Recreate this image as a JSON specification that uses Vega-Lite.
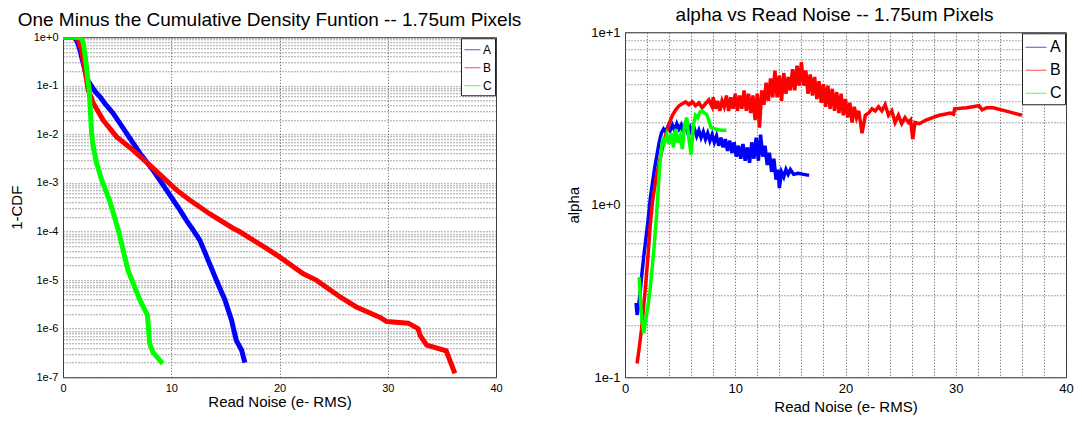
{
  "$schema": "https://vega.github.io/schema/vega-lite/v6.json",
  "background": "white",
  "padding": {"left": 8, "top": 5, "right": 4, "bottom": 2},
  "spacing": 44,
  "center": true,
  "config": {
    "font": "Liberation Sans",
    "view": {"stroke": "#333", "strokeWidth": 1},
    "axis": {
      "titleFontWeight": "normal", "labelColor": "#000", "titleColor": "#000",
      "domain": false, "ticks": false,
      "gridColor": "#555", "gridDash": [1, 2], "gridOpacity": 1, "gridWidth": 1,
      "labelFont": "Liberation Sans", "titleFont": "Liberation Sans"
    },
    "title": {"fontWeight": "normal", "fontSize": 19, "color": "#000", "font": "Liberation Sans"}
  },
  "resolve": {"scale": {"color": "independent"}, "legend": {"color": "independent"}},
  "datasets": {
    "cdf": [
      {"s": "A", "x": 0, "y": 1}, {"s": "A", "x": 1.0, "y": 1}, {"s": "A", "x": 1.2, "y": 0.9}, {"s": "A", "x": 1.4, "y": 0.72},
      {"s": "A", "x": 1.57, "y": 0.54}, {"s": "A", "x": 1.8, "y": 0.33}, {"s": "A", "x": 2.03, "y": 0.21}, {"s": "A", "x": 2.3, "y": 0.13},
      {"s": "A", "x": 2.5, "y": 0.11}, {"s": "A", "x": 3.0, "y": 0.075}, {"s": "A", "x": 3.42, "y": 0.059}, {"s": "A", "x": 4.0, "y": 0.04},
      {"s": "A", "x": 4.64, "y": 0.027}, {"s": "A", "x": 5.88, "y": 0.0105}, {"s": "A", "x": 7.1, "y": 0.0041}, {"s": "A", "x": 8.34, "y": 0.0018},
      {"s": "A", "x": 9.57, "y": 0.00071}, {"s": "A", "x": 10.2, "y": 0.00044}, {"s": "A", "x": 10.8, "y": 0.00028}, {"s": "A", "x": 11.4, "y": 0.00017},
      {"s": "A", "x": 12.03, "y": 0.000107}, {"s": "A", "x": 12.65, "y": 0.000066}, {"s": "A", "x": 13.4, "y": 0.000026}, {"s": "A", "x": 14.3, "y": 0.0000085},
      {"s": "A", "x": 14.96, "y": 0.0000039}, {"s": "A", "x": 15.57, "y": 0.0000015}, {"s": "A", "x": 16.0, "y": 0.00000058}, {"s": "A", "x": 16.5, "y": 0.00000036},
      {"s": "A", "x": 16.8, "y": 0.0000002},
      {"s": "B", "x": 0, "y": 1}, {"s": "B", "x": 1.2, "y": 1}, {"s": "B", "x": 1.45, "y": 0.85}, {"s": "B", "x": 1.72, "y": 0.54},
      {"s": "B", "x": 2.03, "y": 0.21}, {"s": "B", "x": 2.34, "y": 0.081}, {"s": "B", "x": 2.8, "y": 0.044}, {"s": "B", "x": 3.72, "y": 0.0195},
      {"s": "B", "x": 4.96, "y": 0.0089}, {"s": "B", "x": 6.5, "y": 0.0047}, {"s": "B", "x": 8.34, "y": 0.002}, {"s": "B", "x": 10.5, "y": 0.00071},
      {"s": "B", "x": 11.73, "y": 0.00044}, {"s": "B", "x": 13.57, "y": 0.00023}, {"s": "B", "x": 15.7, "y": 0.000117}, {"s": "B", "x": 16.3, "y": 0.0001},
      {"s": "B", "x": 18.8, "y": 0.000045}, {"s": "B", "x": 20.0, "y": 0.00003}, {"s": "B", "x": 22.2, "y": 0.0000135}, {"s": "B", "x": 23.4, "y": 0.00001},
      {"s": "B", "x": 25.6, "y": 0.0000045}, {"s": "B", "x": 27.1, "y": 0.0000028}, {"s": "B", "x": 29.3, "y": 0.0000017}, {"s": "B", "x": 29.9, "y": 0.0000014},
      {"s": "B", "x": 31.9, "y": 0.0000013}, {"s": "B", "x": 32.8, "y": 0.000001}, {"s": "B", "x": 33.0, "y": 0.00000072}, {"s": "B", "x": 33.6, "y": 0.00000046},
      {"s": "B", "x": 35.4, "y": 0.00000035}, {"s": "B", "x": 36.2, "y": 0.00000012},
      {"s": "C", "x": 0, "y": 1}, {"s": "C", "x": 1.4, "y": 1}, {"s": "C", "x": 1.65, "y": 0.97}, {"s": "C", "x": 1.85, "y": 0.8},
      {"s": "C", "x": 2.0, "y": 0.5}, {"s": "C", "x": 2.15, "y": 0.27}, {"s": "C", "x": 2.3, "y": 0.13}, {"s": "C", "x": 2.42, "y": 0.08},
      {"s": "C", "x": 2.55, "y": 0.025}, {"s": "C", "x": 2.65, "y": 0.01}, {"s": "C", "x": 2.8, "y": 0.0055}, {"s": "C", "x": 3.1, "y": 0.0026},
      {"s": "C", "x": 3.6, "y": 0.0011}, {"s": "C", "x": 4.3, "y": 0.00044}, {"s": "C", "x": 5.1, "y": 0.00011}, {"s": "C", "x": 6.0, "y": 0.000016},
      {"s": "C", "x": 7.1, "y": 0.0000039}, {"s": "C", "x": 7.8, "y": 0.0000019}, {"s": "C", "x": 8.0, "y": 0.0000005}, {"s": "C", "x": 8.3, "y": 0.00000033},
      {"s": "C", "x": 9.2, "y": 0.00000019}
    ],
    "alpha": [
      {"s": "A", "x": 1.0, "y": 0.27}, {"s": "A", "x": 1.1, "y": 0.23}, {"s": "A", "x": 1.2, "y": 0.25}, {"s": "A", "x": 1.35, "y": 0.3},
      {"s": "A", "x": 1.5, "y": 0.38}, {"s": "A", "x": 1.7, "y": 0.5}, {"s": "A", "x": 1.9, "y": 0.64}, {"s": "A", "x": 2.1, "y": 0.82},
      {"s": "A", "x": 2.3, "y": 1.1}, {"s": "A", "x": 2.5, "y": 1.35}, {"s": "A", "x": 2.7, "y": 1.65}, {"s": "A", "x": 2.9, "y": 1.95},
      {"s": "A", "x": 3.1, "y": 2.3}, {"s": "A", "x": 3.3, "y": 2.6}, {"s": "A", "x": 3.5, "y": 2.75}, {"s": "A", "x": 3.7, "y": 2.65},
      {"s": "A", "x": 3.9, "y": 2.85}, {"s": "A", "x": 4.1, "y": 2.7}, {"s": "A", "x": 4.3, "y": 2.9}, {"s": "A", "x": 4.5, "y": 2.7},
      {"s": "A", "x": 4.7, "y": 2.95}, {"s": "A", "x": 4.9, "y": 2.75}, {"s": "A", "x": 5.1, "y": 2.9}, {"s": "A", "x": 5.3, "y": 2.65},
      {"s": "A", "x": 5.5, "y": 2.85}, {"s": "A", "x": 5.7, "y": 2.6}, {"s": "A", "x": 5.9, "y": 2.8}, {"s": "A", "x": 6.1, "y": 2.55},
      {"s": "A", "x": 6.3, "y": 2.75}, {"s": "A", "x": 6.5, "y": 2.5}, {"s": "A", "x": 6.7, "y": 2.7}, {"s": "A", "x": 6.9, "y": 2.45},
      {"s": "A", "x": 7.1, "y": 2.65}, {"s": "A", "x": 7.3, "y": 2.4}, {"s": "A", "x": 7.5, "y": 2.6}, {"s": "A", "x": 7.7, "y": 2.35},
      {"s": "A", "x": 7.9, "y": 2.55}, {"s": "A", "x": 8.1, "y": 2.3}, {"s": "A", "x": 8.3, "y": 2.5}, {"s": "A", "x": 8.5, "y": 2.2},
      {"s": "A", "x": 8.7, "y": 2.45}, {"s": "A", "x": 8.9, "y": 2.15}, {"s": "A", "x": 9.1, "y": 2.4}, {"s": "A", "x": 9.3, "y": 2.05},
      {"s": "A", "x": 9.5, "y": 2.35}, {"s": "A", "x": 9.7, "y": 2.0}, {"s": "A", "x": 9.9, "y": 2.3}, {"s": "A", "x": 10.1, "y": 1.9},
      {"s": "A", "x": 10.3, "y": 2.2}, {"s": "A", "x": 10.5, "y": 1.85}, {"s": "A", "x": 10.7, "y": 2.25}, {"s": "A", "x": 10.9, "y": 1.8},
      {"s": "A", "x": 11.1, "y": 2.15}, {"s": "A", "x": 11.3, "y": 1.75}, {"s": "A", "x": 11.5, "y": 2.3}, {"s": "A", "x": 11.7, "y": 1.85},
      {"s": "A", "x": 11.9, "y": 2.45}, {"s": "A", "x": 12.1, "y": 1.8}, {"s": "A", "x": 12.3, "y": 2.55}, {"s": "A", "x": 12.5, "y": 1.9},
      {"s": "A", "x": 12.7, "y": 2.2}, {"s": "A", "x": 12.9, "y": 1.7}, {"s": "A", "x": 13.1, "y": 2.0}, {"s": "A", "x": 13.3, "y": 1.55},
      {"s": "A", "x": 13.5, "y": 1.85}, {"s": "A", "x": 13.7, "y": 1.4}, {"s": "A", "x": 13.9, "y": 1.6}, {"s": "A", "x": 14.0, "y": 1.25},
      {"s": "A", "x": 14.2, "y": 1.55}, {"s": "A", "x": 14.4, "y": 1.45}, {"s": "A", "x": 14.6, "y": 1.6}, {"s": "A", "x": 14.8, "y": 1.5},
      {"s": "A", "x": 15.0, "y": 1.6}, {"s": "A", "x": 15.3, "y": 1.5}, {"s": "A", "x": 15.7, "y": 1.52}, {"s": "A", "x": 16.2, "y": 1.5},
      {"s": "A", "x": 16.7, "y": 1.48},
      {"s": "B", "x": 1.1, "y": 0.12}, {"s": "B", "x": 1.3, "y": 0.15}, {"s": "B", "x": 1.5, "y": 0.19}, {"s": "B", "x": 1.7, "y": 0.26},
      {"s": "B", "x": 1.9, "y": 0.36}, {"s": "B", "x": 2.1, "y": 0.52}, {"s": "B", "x": 2.3, "y": 0.78}, {"s": "B", "x": 2.5, "y": 1.05},
      {"s": "B", "x": 2.8, "y": 1.4}, {"s": "B", "x": 3.1, "y": 1.75}, {"s": "B", "x": 3.4, "y": 2.15}, {"s": "B", "x": 3.7, "y": 2.55},
      {"s": "B", "x": 4.0, "y": 2.95}, {"s": "B", "x": 4.3, "y": 3.3}, {"s": "B", "x": 4.6, "y": 3.55}, {"s": "B", "x": 4.9, "y": 3.75},
      {"s": "B", "x": 5.2, "y": 3.85}, {"s": "B", "x": 5.5, "y": 3.95}, {"s": "B", "x": 5.8, "y": 3.8}, {"s": "B", "x": 6.1, "y": 3.95},
      {"s": "B", "x": 6.4, "y": 3.75}, {"s": "B", "x": 6.7, "y": 3.9}, {"s": "B", "x": 7.0, "y": 3.65}, {"s": "B", "x": 7.3, "y": 3.85},
      {"s": "B", "x": 7.6, "y": 4.05}, {"s": "B", "x": 7.9, "y": 3.7}, {"s": "B", "x": 8.0, "y": 4.2}, {"s": "B", "x": 8.2, "y": 3.6},
      {"s": "B", "x": 8.4, "y": 4.0}, {"s": "B", "x": 8.6, "y": 3.5}, {"s": "B", "x": 8.8, "y": 4.0}, {"s": "B", "x": 9.0, "y": 3.7},
      {"s": "B", "x": 9.2, "y": 4.3}, {"s": "B", "x": 9.4, "y": 3.5}, {"s": "B", "x": 9.6, "y": 4.2}, {"s": "B", "x": 9.8, "y": 3.6},
      {"s": "B", "x": 10.0, "y": 4.4}, {"s": "B", "x": 10.2, "y": 3.5}, {"s": "B", "x": 10.4, "y": 4.3}, {"s": "B", "x": 10.6, "y": 3.6},
      {"s": "B", "x": 10.8, "y": 4.6}, {"s": "B", "x": 11.0, "y": 3.5}, {"s": "B", "x": 11.2, "y": 4.4}, {"s": "B", "x": 11.4, "y": 3.4},
      {"s": "B", "x": 11.6, "y": 4.3}, {"s": "B", "x": 11.8, "y": 3.1}, {"s": "B", "x": 12.0, "y": 4.4}, {"s": "B", "x": 12.2, "y": 2.8},
      {"s": "B", "x": 12.4, "y": 4.6}, {"s": "B", "x": 12.6, "y": 3.8}, {"s": "B", "x": 12.8, "y": 5.1}, {"s": "B", "x": 13.0, "y": 4.0},
      {"s": "B", "x": 13.2, "y": 5.4}, {"s": "B", "x": 13.4, "y": 4.2}, {"s": "B", "x": 13.6, "y": 6.0}, {"s": "B", "x": 13.8, "y": 4.2},
      {"s": "B", "x": 14.0, "y": 5.6}, {"s": "B", "x": 14.2, "y": 4.0}, {"s": "B", "x": 14.4, "y": 5.8}, {"s": "B", "x": 14.6, "y": 4.4},
      {"s": "B", "x": 14.8, "y": 5.5}, {"s": "B", "x": 15.0, "y": 4.6}, {"s": "B", "x": 15.2, "y": 6.1}, {"s": "B", "x": 15.4, "y": 4.6},
      {"s": "B", "x": 15.6, "y": 6.4}, {"s": "B", "x": 15.8, "y": 4.9}, {"s": "B", "x": 16.0, "y": 6.7}, {"s": "B", "x": 16.2, "y": 4.9},
      {"s": "B", "x": 16.4, "y": 6.0}, {"s": "B", "x": 16.6, "y": 4.4}, {"s": "B", "x": 16.8, "y": 5.7}, {"s": "B", "x": 17.0, "y": 4.3},
      {"s": "B", "x": 17.2, "y": 5.5}, {"s": "B", "x": 17.4, "y": 4.1}, {"s": "B", "x": 17.6, "y": 5.2}, {"s": "B", "x": 17.8, "y": 3.9},
      {"s": "B", "x": 18.0, "y": 5.0}, {"s": "B", "x": 18.2, "y": 3.7}, {"s": "B", "x": 18.4, "y": 4.9}, {"s": "B", "x": 18.6, "y": 3.6},
      {"s": "B", "x": 18.8, "y": 4.7}, {"s": "B", "x": 19.0, "y": 3.5}, {"s": "B", "x": 19.2, "y": 4.5}, {"s": "B", "x": 19.4, "y": 3.4},
      {"s": "B", "x": 19.6, "y": 4.4}, {"s": "B", "x": 19.8, "y": 3.3}, {"s": "B", "x": 20.0, "y": 4.1}, {"s": "B", "x": 20.2, "y": 3.2},
      {"s": "B", "x": 20.4, "y": 3.9}, {"s": "B", "x": 20.6, "y": 3.0}, {"s": "B", "x": 20.8, "y": 3.7}, {"s": "B", "x": 21.0, "y": 3.2},
      {"s": "B", "x": 21.2, "y": 3.5}, {"s": "B", "x": 21.5, "y": 2.6}, {"s": "B", "x": 21.8, "y": 3.3}, {"s": "B", "x": 22.1, "y": 3.4},
      {"s": "B", "x": 22.4, "y": 3.6}, {"s": "B", "x": 22.7, "y": 3.5}, {"s": "B", "x": 23.0, "y": 3.7}, {"s": "B", "x": 23.3, "y": 3.5},
      {"s": "B", "x": 23.6, "y": 3.8}, {"s": "B", "x": 23.9, "y": 3.3}, {"s": "B", "x": 24.2, "y": 3.5}, {"s": "B", "x": 24.5, "y": 3.0},
      {"s": "B", "x": 24.8, "y": 3.3}, {"s": "B", "x": 25.1, "y": 2.95}, {"s": "B", "x": 25.4, "y": 3.2}, {"s": "B", "x": 25.7, "y": 3.0},
      {"s": "B", "x": 25.9, "y": 3.1}, {"s": "B", "x": 26.1, "y": 2.4}, {"s": "B", "x": 26.3, "y": 3.0}, {"s": "B", "x": 26.7, "y": 2.95},
      {"s": "B", "x": 27.3, "y": 3.1}, {"s": "B", "x": 27.9, "y": 3.2}, {"s": "B", "x": 28.5, "y": 3.3}, {"s": "B", "x": 29.0, "y": 3.35},
      {"s": "B", "x": 29.5, "y": 3.4}, {"s": "B", "x": 29.8, "y": 3.35}, {"s": "B", "x": 29.9, "y": 3.6}, {"s": "B", "x": 31.0, "y": 3.65},
      {"s": "B", "x": 32.1, "y": 3.75}, {"s": "B", "x": 32.4, "y": 3.55}, {"s": "B", "x": 32.8, "y": 3.65}, {"s": "B", "x": 33.4, "y": 3.65},
      {"s": "B", "x": 34.5, "y": 3.5}, {"s": "B", "x": 36.0, "y": 3.3},
      {"s": "C", "x": 1.25, "y": 0.38}, {"s": "C", "x": 1.3, "y": 0.37}, {"s": "C", "x": 1.4, "y": 0.28}, {"s": "C", "x": 1.55, "y": 0.21},
      {"s": "C", "x": 1.7, "y": 0.18}, {"s": "C", "x": 1.85, "y": 0.21}, {"s": "C", "x": 2.05, "y": 0.25}, {"s": "C", "x": 2.25, "y": 0.31},
      {"s": "C", "x": 2.45, "y": 0.42}, {"s": "C", "x": 2.65, "y": 0.58}, {"s": "C", "x": 2.85, "y": 0.85}, {"s": "C", "x": 3.0, "y": 1.2},
      {"s": "C", "x": 3.15, "y": 1.7}, {"s": "C", "x": 3.3, "y": 2.1}, {"s": "C", "x": 3.45, "y": 2.45}, {"s": "C", "x": 3.6, "y": 2.3},
      {"s": "C", "x": 3.8, "y": 2.55}, {"s": "C", "x": 4.0, "y": 2.25}, {"s": "C", "x": 4.2, "y": 2.6}, {"s": "C", "x": 4.4, "y": 2.15},
      {"s": "C", "x": 4.6, "y": 2.75}, {"s": "C", "x": 4.8, "y": 2.3}, {"s": "C", "x": 5.0, "y": 2.5}, {"s": "C", "x": 5.2, "y": 2.1},
      {"s": "C", "x": 5.4, "y": 2.9}, {"s": "C", "x": 5.6, "y": 3.2}, {"s": "C", "x": 5.8, "y": 2.4}, {"s": "C", "x": 6.0, "y": 1.95},
      {"s": "C", "x": 6.2, "y": 2.9}, {"s": "C", "x": 6.4, "y": 3.3}, {"s": "C", "x": 6.6, "y": 3.2}, {"s": "C", "x": 6.8, "y": 3.45},
      {"s": "C", "x": 7.0, "y": 3.5}, {"s": "C", "x": 7.2, "y": 3.4}, {"s": "C", "x": 7.4, "y": 3.35}, {"s": "C", "x": 7.6, "y": 3.1},
      {"s": "C", "x": 7.8, "y": 2.8}, {"s": "C", "x": 8.2, "y": 2.75}, {"s": "C", "x": 8.7, "y": 2.7}, {"s": "C", "x": 9.2, "y": 2.7}
    ]
  },
  "hconcat": [
    {
      "width": 433,
      "height": 340,
      "title": {"text": "One Minus the Cumulative Density Funtion -- 1.75um Pixels", "offset": 1, "dx": -10},
      "data": {"name": "cdf"},
      "mark": {"type": "line", "strokeWidth": 5, "clip": true},
      "encoding": {
        "x": {
          "field": "x", "type": "quantitative",
          "scale": {"domain": [0, 40], "nice": false, "zero": false},
          "axis": {"title": "Read Noise (e- RMS)", "values": [0, 10, 20, 30, 40], "labelFontSize": 11, "titleFontSize": 15, "labelPadding": 5, "titlePadding": 1, "labelFlush": false}
        },
        "y": {
          "field": "y", "type": "quantitative",
          "scale": {"type": "log", "domain": [1e-7, 1], "nice": false},
          "axis": {
            "title": "1-CDF",
            "values": [1e-7, 2e-7, 3e-7, 4e-7, 5e-7, 6e-7, 7e-7, 8e-7, 9e-7, 1e-6, 2e-6, 3e-6, 4e-6, 5e-6, 6e-6, 7e-6, 8e-6, 9e-6, 1e-5, 2e-5, 3e-5, 4e-5, 5e-5, 6e-5, 7e-5, 8e-5, 9e-5, 0.0001, 0.0002, 0.0003, 0.0004, 0.0005, 0.0006, 0.0007, 0.0008, 0.0009, 0.001, 0.002, 0.003, 0.004, 0.005, 0.006, 0.007, 0.008, 0.009, 0.01, 0.02, 0.03, 0.04, 0.05, 0.06, 0.07, 0.08, 0.09, 0.1, 0.2, 0.3, 0.4, 0.5, 0.6, 0.7, 0.8, 0.9, 1],
            "labelExpr": "abs(log(datum.value)/LN10 - round(log(datum.value)/LN10)) < 0.001 ? '1e' + (round(log(datum.value)/LN10) >= 0 ? '+' : '') + round(log(datum.value)/LN10) : ''",
            "labelOverlap": false, "labelFontSize": 11, "titleFontSize": 15, "labelPadding": 5, "titlePadding": 9, "labelFlush": false
          }
        },
        "color": {
          "field": "s", "type": "nominal",
          "scale": {"domain": ["A", "B", "C"], "range": ["#0000ff", "#ff0000", "#00ff00"]},
          "legend": {"title": null, "orient": "top-right", "offset": 1, "fillColor": "#ffffff", "strokeColor": "#222222", "padding": 3, "symbolType": "stroke", "symbolStrokeWidth": 1, "symbolSize": 256, "symbolOpacity": 0.7, "labelFontSize": 12, "rowPadding": 3, "labelOffset": 2, "labelColor": "#000",
            "encode": {"symbols": {"update": {"strokeWidth": {"value": 1}}}}}
        }
      }
    },
    {
      "width": 441,
      "height": 345,
      "title": {"text": "alpha vs Read Noise -- 1.75um Pixels", "offset": 1, "dx": -11},
      "data": {"name": "alpha"},
      "mark": {"type": "line", "strokeWidth": 3.5, "clip": true},
      "encoding": {
        "x": {
          "field": "x", "type": "quantitative",
          "scale": {"domain": [0, 40], "nice": false, "zero": false},
          "axis": {"title": "Read Noise (e- RMS)", "values": [0, 2, 4, 6, 8, 10, 12, 14, 16, 18, 20, 22, 24, 26, 28, 30, 32, 34, 36, 38, 40], "labelExpr": "datum.value % 10 === 0 ? datum.label : ''", "labelOverlap": false, "labelFontSize": 13, "titleFontSize": 15, "labelPadding": 5, "titlePadding": 4, "labelFlush": false}
        },
        "y": {
          "field": "y", "type": "quantitative",
          "scale": {"type": "log", "domain": [0.1, 10], "nice": false},
          "axis": {
            "title": "alpha",
            "values": [0.1, 0.2, 0.3, 0.4, 0.5, 0.6, 0.7, 0.8, 0.9, 1, 2, 3, 4, 5, 6, 7, 8, 9, 10],
            "labelExpr": "abs(log(datum.value)/LN10 - round(log(datum.value)/LN10)) < 0.001 ? '1e' + (round(log(datum.value)/LN10) >= 0 ? '+' : '') + round(log(datum.value)/LN10) : ''",
            "labelOverlap": false, "labelFontSize": 13, "titleFontSize": 15, "labelPadding": 5, "titlePadding": 9, "labelFlush": false
          }
        },
        "color": {
          "field": "s", "type": "nominal",
          "scale": {"domain": ["A", "B", "C"], "range": ["#0000ff", "#ff0000", "#00ff00"]},
          "legend": {"title": null, "orient": "top-right", "offset": 1, "fillColor": "#ffffff", "strokeColor": "#222222", "padding": 3, "symbolType": "stroke", "symbolStrokeWidth": 1, "symbolSize": 441, "symbolOpacity": 0.7, "labelFontSize": 16, "rowPadding": 4, "labelOffset": 3, "labelColor": "#000",
            "encode": {"symbols": {"update": {"strokeWidth": {"value": 1}}}}}
        }
      }
    }
  ]
}
